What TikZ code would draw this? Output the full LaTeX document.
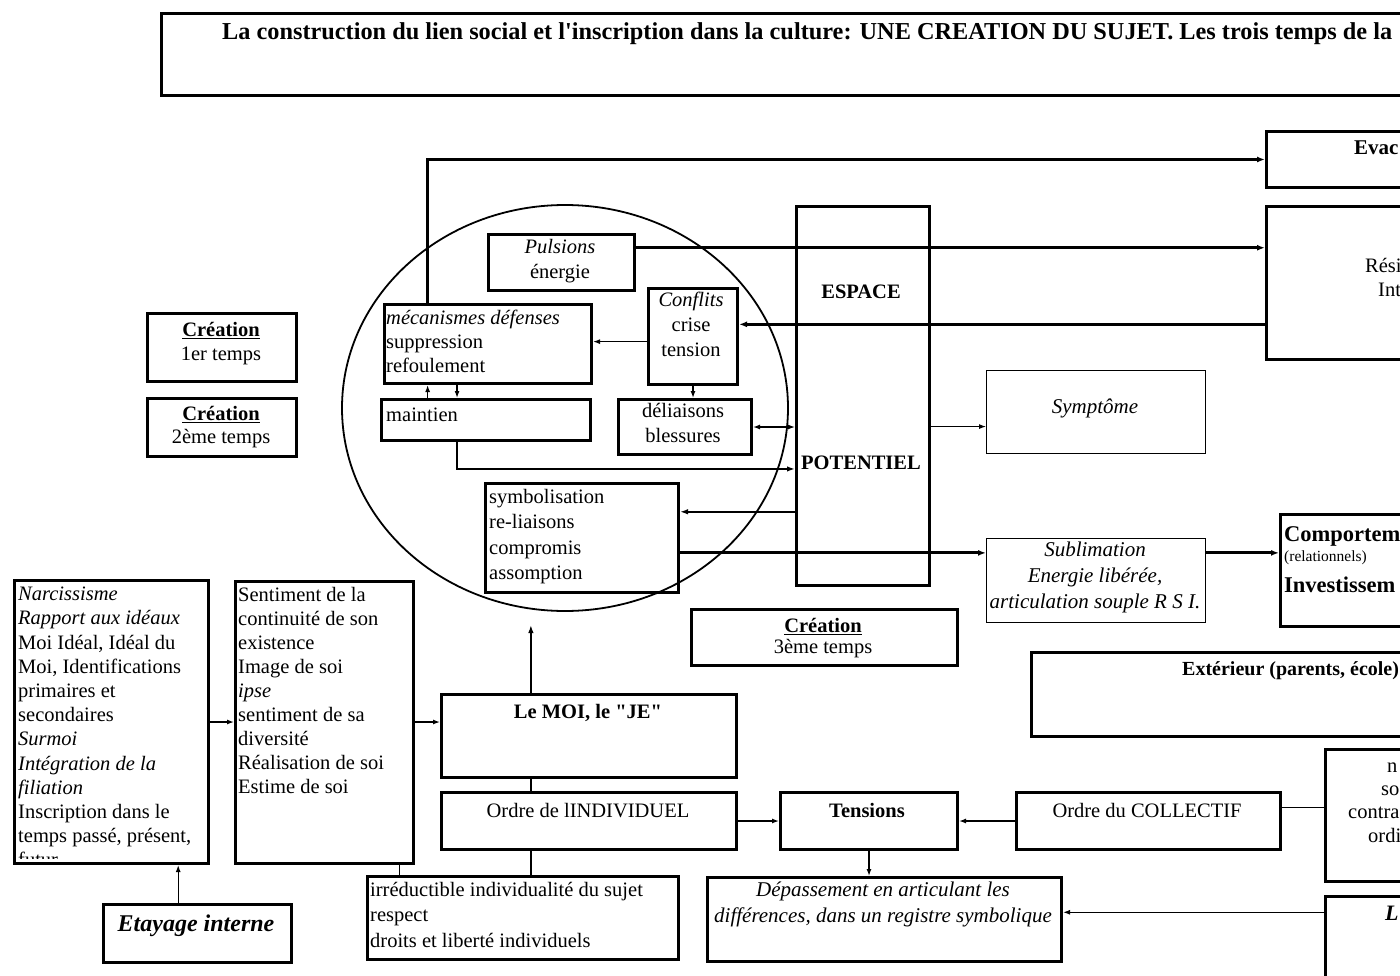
\documentclass[tikz,border=0pt]{standalone}
\usepackage{fontspec}
\setmainfont{Liberation Serif}
% same family without the TeX quote mapping, for straight quotes
\newfontfamily\rawserif{Liberation Serif}
\usetikzlibrary{arrows.meta,calc}

\tikzset{
  tbox/.style={draw, line width=3pt, rectangle, inner sep=0pt, anchor=north west},
  fbox/.style={draw, line width=1.2pt, rectangle, inner sep=0pt, anchor=north west},
  txt/.style={inner sep=0pt, font=\fontsize{20.5}{24}\selectfont},
  itx/.style={inner sep=0pt, font=\fontsize{21}{24}\selectfont\itshape},
  tl/.style={txt, align=left, anchor=north west},
  tc/.style={txt, align=center, anchor=north},
  bl/.style={txt, anchor=base west},
  bc/.style={txt, anchor=base},
  arr/.style={line width=1.3pt, -{Latex[length=7pt,width=5pt]}},
  arrM/.style={line width=2pt, -{Latex[length=8pt,width=5.5pt]}},
  arrT/.style={line width=2.8pt, -{Latex[length=8pt,width=6pt]}},
  link/.style={line width=1.3pt},
}

\begin{document}
\begin{tikzpicture}[x=1pt,y=-1pt]
\useasboundingbox (0,0) rectangle (1400,976);
\clip (0,0) rectangle (1400,976);

% ---------- title ----------
\node[tbox, minimum width=1400pt, minimum height=82pt] (title) at (160,12) {};
\node[bl, font=\fontsize{24.3}{28}\rawserif\bfseries] (titlet) at (222,40)
  {La construction du lien social et l'inscription dans la culture: UNE CREATION DU SUJET. Les trois temps de la};

% ---------- right column (outputs) ----------
\node[tbox, minimum width=300pt, minimum height=56pt] (evac) at (1265,130) {};
\node[bl, font=\fontsize{21}{24}\selectfont\bfseries] (evact) at (1354,155) {Evac};
\node[tbox, minimum width=300pt, minimum height=153pt] (resi) at (1265,205) {};
\node[bl] (resit1) at (1365,273) {Rési};
\node[bl] (resit2) at (1378,297) {Int};

\node[tbox, minimum width=300pt, minimum height=112pt] (comp) at (1279,513) {};
\node[bl, font=\fontsize{22.5}{26}\selectfont\bfseries] (compt1) at (1284,541) {Comportem};
\node[bl, font=\fontsize{15.5}{18}\selectfont] (compt2) at (1284,561) {(relationnels)};
\node[bl, font=\fontsize{22.5}{26}\selectfont\bfseries] (compt3) at (1284,592) {Investissem};

\node[tbox, minimum width=500pt, minimum height=84pt] (ext) at (1030,651) {};
\node[bl, font=\fontsize{20}{24}\selectfont\bfseries] (extt) at (1182,675) {Extérieur (parents, école)};

\node[tbox, minimum width=200pt, minimum height=132pt] (norm) at (1324,748) {};
\node[bl] (normt1) at (1387,772) {n};
\node[bl] (normt2) at (1381,795) {so};
\node[bl] (normt3) at (1348,818) {contra};
\node[bl] (normt4) at (1368,842) {ordi};

\node[tbox, minimum width=200pt, minimum height=200pt] (lbox) at (1324,895) {};
\node[bl, font=\fontsize{22}{24}\selectfont\bfseries\itshape] (lboxt) at (1385,920) {L};

% ---------- espace potentiel ----------
\node[tbox, minimum width=133pt, minimum height=379pt] (esp) at (795,205) {};
\node[bc, font=\fontsize{20.5}{24}\selectfont\bfseries] (espt1) at (861,299) {ESPACE};
\node[bc, font=\fontsize{20.5}{24}\selectfont\bfseries] (espt2) at (861,469) {POTENTIEL};

\node[fbox, minimum width=219pt, minimum height=83pt] (sympt) at (986,370) {};
\node[itx, anchor=base] (symptt) at (1095,413) {Symptôme};

\node[fbox, minimum width=219pt, minimum height=84pt] (subl) at (986,538) {};
\node[itx, align=center, anchor=north, font=\fontsize{21}{26}\selectfont\itshape] (sublt) at (1095,542)
  {Sublimation\\Energie libérée,\\articulation souple R S I.};

% ---------- the psychic circle ----------
\draw[line width=1.8pt] (565,408) ellipse [x radius=223, y radius=203];

\node[tbox, minimum width=146pt, minimum height=56pt] (pul) at (487,233) {};
\node[tc, font=\fontsize{20.5}{25}\selectfont] (pult) at (560,239) {\textit{Pulsions}\\énergie};

\node[tbox, minimum width=89pt, minimum height=96pt] (conf) at (647,287) {};
\node[tc, font=\fontsize{20.5}{25}\selectfont] (conft) at (691,292) {\textit{Conflits}\\crise\\tension};

\node[tbox, minimum width=207pt, minimum height=79pt] (meca) at (383,303) {};
\node[tl] (mecat) at (386,310) {\textit{mécanismes défenses}\\suppression\\refoulement};

\node[tbox, minimum width=209pt, minimum height=41pt] (maint) at (380,398) {};
\node[bl] (maintt) at (386,421) {maintien};

\node[tbox, minimum width=133pt, minimum height=55pt] (deli) at (617,398) {};
\node[tc, font=\fontsize{20.5}{25}\selectfont] (delit) at (683,403) {déliaisons\\blessures};

\node[tbox, minimum width=193pt, minimum height=109pt] (symb) at (484,482) {};
\node[tl, font=\fontsize{20.5}{25.3}\selectfont] (symbt) at (489,489) {symbolisation\\re-liaisons\\compromis\\assomption};

% ---------- création boxes ----------
\node[tbox, minimum width=149pt, minimum height=68pt] (cr1) at (146,312) {};
\node[tc] (cr1t) at (221,322) {\underline{\textbf{Création}}\\1er temps};
\node[tbox, minimum width=149pt, minimum height=58pt] (cr2) at (146,397) {};
\node[tc, font=\fontsize{20.5}{23}\selectfont] (cr2t) at (221,406) {\underline{\textbf{Création}}\\2ème temps};
\node[tbox, minimum width=266pt, minimum height=56pt] (cr3) at (690,608) {};
\node[tc, font=\fontsize{20.5}{21}\selectfont] (cr3t) at (823,618) {\underline{\textbf{Création}}\\3ème temps};

% ---------- lower left ----------
\begin{scope}
  \clip (13,579) rectangle (207,858);
  \node[tl, font=\fontsize{20.5}{24.2}\selectfont] (narct) at (18,587)
   {\textit{Narcissisme}\\\textit{Rapport aux idéaux}\\Moi Idéal, Idéal du\\Moi, Identifications\\primaires et\\secondaires\\\textit{Surmoi}\\\textit{Intégration de la}\\\textit{filiation}\\Inscription dans le\\temps passé, présent,\\futur};
\end{scope}
\node[tbox, minimum width=194pt, minimum height=283pt] (narc) at (13,579) {};

\node[tbox, minimum width=178pt, minimum height=282pt] (sent) at (234,580) {};
\node[tl] (sentt) at (238,587)
  {Sentiment de la\\continuité de son\\existence\\Image de soi\\\textit{ipse}\\sentiment de sa\\diversité\\Réalisation de soi\\Estime de soi};

\node[tbox, minimum width=188pt, minimum height=58pt] (etay) at (102,903) {};
\node[bc, font=\fontsize{24}{26}\selectfont\bfseries\itshape] (etayt) at (196,931) {Etayage interne};

\node[tbox, minimum width=295pt, minimum height=83pt] (moi) at (440,693) {};
\node[bc, font=\fontsize{20.5}{24}\rawserif\bfseries] (moit) at (588,718) {Le MOI, le "JE"};

\node[tbox, minimum width=295pt, minimum height=57pt] (indiv) at (440,791) {};
\node[bc] (indivt) at (588,817) {Ordre de lINDIVIDUEL};

\node[tbox, minimum width=177pt, minimum height=57pt] (tens) at (779,791) {};
\node[bc, font=\fontsize{20.5}{24}\selectfont\bfseries] (tenst) at (867,817) {Tensions};

\node[tbox, minimum width=264pt, minimum height=57pt] (coll) at (1015,791) {};
\node[bc] (collt) at (1147,817) {Ordre du COLLECTIF};

\node[tbox, minimum width=311pt, minimum height=83pt] (irr) at (366,875) {};
\node[tl, font=\fontsize{20.5}{25.5}\selectfont] (irrt) at (370,882)
  {irréductible individualité du sujet\\respect\\droits et liberté individuels};

\node[tbox, minimum width=354pt, minimum height=84pt] (dep) at (706,876) {};
\node[itx, align=center, anchor=north, font=\fontsize{21}{26}\selectfont\itshape] (dept) at (883,882)
  {Dépassement en articulant les\\différences, dans un registre symbolique};

% ---------- connectors ----------
% defences feed the evacuation path
\coordinate (mecaA) at ($(meca.north west)!0.2126!(meca.north east)$);
\draw[arrT] (mecaA) |- (evac.west);
% drives
\coordinate (pulA) at ($(pul.north east)!0.25!(pul.south east)$);
\draw[arrT] (pulA) -- (pulA -| resi.west);
% back to conflicts
\coordinate (resiA) at ($(resi.north west)!0.765!(resi.south west)$);
\draw[arrT] (resiA) -- (resiA -| conf.east);
% conflicts -> defences
\coordinate (confA) at ($(conf.north west)!0.552!(conf.south west)$);
\draw[arr] (confA) -- (confA -| meca.east);
% defences <-> maintien
\draw[arr] (mecaA |- maint.north) -- (mecaA |- meca.south);
\coordinate (mecaB) at ($(meca.south west)!0.3527!(meca.south east)$);
\draw[arr] (mecaB) -- (mecaB |- maint.north);
% conflicts -> déliaisons
\draw[arr] (conf.south) -- (conf.south |- deli.north);
% déliaisons <-> espace
\draw[line width=1.3pt, {Latex[length=7pt,width=5pt]}-{Latex[length=7pt,width=5pt]}] (deli.east) -- (deli.east -| esp.west);
% maintien -> espace
\coordinate (espB) at ($(esp.north west)!0.691!(esp.south west)$);
\draw[arrM] (mecaB |- maint.south) |- (espB);
% espace -> symbolisation
\coordinate (symbA) at ($(symb.north east)!0.266!(symb.south east)$);
\draw[arrM] (symbA -| esp.west) -- (symbA);
% symbolisation -> sublimation -> comportements
\coordinate (symbB) at ($(symb.north east)!0.633!(symb.south east)$);
\draw[arrT] (symbB) -- (symbB -| subl.west);
\draw[arrT] (symbB -| subl.east) -- (symbB -| comp.west);
% espace -> symptôme
\coordinate (espC) at ($(esp.north east)!0.58!(esp.south east)$);
\draw[line width=1pt, -{Latex[length=7pt,width=5pt]}] (espC) -- (espC -| sympt.west);

% lower chain
\draw[arr] (narc.east) -- (narc.east -| sent.west);
\draw[arr] (narc.east -| sent.east) -- (narc.east -| moi.west);
\coordinate (moiA) at ($(moi.north west)!0.305!(moi.north east)$);
\coordinate (moitip) at ($(moiA)+(0,-68)$);
\draw[arrM] (moiA) -- (moitip);
\draw[link] (moiA |- moi.south) -- (moiA |- indiv.north);
\draw[link] (moiA |- indiv.south) -- (moiA |- irr.north);
\coordinate (sentA) at ($(sent.south west)!0.916!(sent.south east)$);
\draw[link] (sentA) -- (sentA |- irr.north);
\coordinate (etayA) at ($(etay.north west)!0.399!(etay.north east)$);
\draw[arr] (etayA) -- (etayA |- narc.south);
\draw[arr] (indiv.east) -- (indiv.east -| tens.west);
\draw[arr] (coll.west) -- (coll.west -| tens.east);
\coordinate (collA) at ($(coll.north east)!0.28!(coll.south east)$);
\draw[link] (collA) -- (collA -| norm.west);
\draw[arr] (tens.south) -- (tens.south |- dep.north);
\coordinate (depA) at ($(dep.north east)!0.417!(dep.south east)$);
\draw[arr] (depA -| lbox.west) -- (depA);

\end{tikzpicture}
\end{document}
